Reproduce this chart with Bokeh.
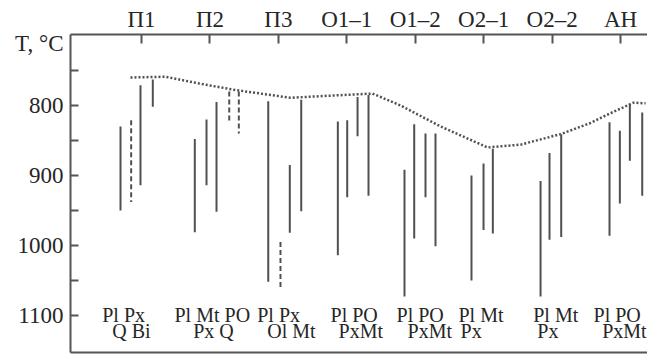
from bokeh.plotting import figure
from bokeh.models import Range1d, LinearAxis, FixedTicker
from bokeh.core.properties import value
from bokeh.embed import file_html
from bokeh.resources import INLINE

# ---- data ----
groups = ["П1", "П2", "П3", "О1–1", "О1–2", "О2–1", "О2–2", "АН"]
group_pos = [1, 2, 3, 4, 5, 6, 7, 8]

# solid temperature intervals (x position, top T, bottom T)
solid_x = [0.693, 0.985, 1.165,
           1.779, 1.950, 2.096,
           2.852, 3.167, 3.334,
           3.869, 4.006, 4.157, 4.317,
           4.843, 4.985, 5.150, 5.296,
           5.822, 5.998, 6.134,
           6.831, 6.962, 7.133,
           7.839, 7.990, 8.136, 8.317]
solid_top = [830, 771, 763,
             848, 820, 795,
             794, 885, 792,
             823, 821, 788, 785,
             892, 827, 840, 840,
             900, 883, 862,
             908, 868, 841,
             824, 836, 798, 810]
solid_bottom = [950, 914, 802,
                981, 914, 952,
                1052, 982, 951,
                1014, 931, 844, 929,
                1073, 990, 931, 1001,
                1050, 978, 983,
                1073, 992, 988,
                986, 940, 879, 929]

# dashed intervals
dash_x = [0.849, 2.282, 2.422, 3.031]
dash_top = [821, 780, 780, 995]
dash_bottom = [938, 823, 840, 1060]

# dotted upper envelope
curve_x = [0.839, 1.351, 1.862, 2.374, 2.812, 3.177, 3.762, 4.376, 4.785,
           5.370, 6.057, 6.539, 7.124, 7.562, 7.854, 8.190, 8.366]
curve_t = [760, 759, 769, 778, 784, 789, 786, 783, 800,
           830, 860, 856, 841, 825, 811, 796, 797]

# mineral labels (two rows)
row1_text = ["Pl Px", "Pl Mt PO", "Pl Px", "Pl PO", "Pl PO", "Pl Mt", "Pl Mt", "Pl PO"]
row1_x = [0.426, 1.482, 2.691, 3.762, 4.727, 5.632, 6.724, 7.605]
row2_text = ["Q Bi", "Px Q", "Ol Mt", "PxMt", "PxMt", "Px", "Px", "PxMt"]
row2_x = [0.572, 1.756, 2.837, 3.879, 4.887, 5.662, 6.783, 7.732]
row1_t = 1099.5
row2_t = 1122.0

y_ticks = [800, 900, 1000, 1100]
y_minor = [750, 850, 950, 1050]
y_title = "T, °C"
y_title_pos = 711.4

# ---- figure ----
FONT = "Liberation Serif"
LINE = "#505050"
TEXT = "#262626"
AXIS = "#555555"

p = figure(width=647, height=354, output_backend="svg", toolbar_location=None,
           x_range=Range1d(-0.0376, 8.394), y_range=Range1d(1153, 698.6),
           x_axis_location=None, y_axis_location=None,
           min_border_left=70, min_border_right=0, min_border_top=34,
           min_border_bottom=2)
p.grid.visible = False
p.outline_line_color = None
p.background_fill_color = "white"
p.border_fill_color = "white"

# left axis (tick marks drawn as minor ticks; the title sits at the top as a label)
ya = LinearAxis(ticker=FixedTicker(ticks=[y_title_pos] + y_ticks,
                                   minor_ticks=y_ticks + y_minor))
ya.major_label_overrides = {y_title_pos: y_title}
ya.axis_line_color = AXIS
ya.axis_line_width = 2
ya.major_tick_line_color = None
ya.major_tick_in = 0
ya.major_tick_out = 0
ya.minor_tick_line_color = AXIS
ya.minor_tick_line_width = 2
ya.minor_tick_in = 8
ya.minor_tick_out = 0
ya.major_label_text_font = FONT
ya.major_label_text_font_size = "23px"
ya.major_label_text_color = TEXT
ya.major_label_standoff = 7
p.add_layout(ya, "left")

# top axis
xa = LinearAxis(ticker=FixedTicker(ticks=group_pos, minor_ticks=[]))
xa.major_label_overrides = {pos: g for pos, g in zip(group_pos, groups)}
xa.axis_line_color = AXIS
xa.axis_line_width = 2
xa.major_tick_line_color = AXIS
xa.major_tick_line_width = 2
xa.major_tick_in = 9
xa.major_tick_out = 0
xa.minor_tick_line_color = None
xa.major_label_text_font = FONT
xa.major_label_text_font_size = "23px"
xa.major_label_text_color = TEXT
xa.major_label_standoff = 3
p.add_layout(xa, "above")

# bottom line
ba = LinearAxis(ticker=FixedTicker(ticks=[]))
ba.axis_line_color = AXIS
ba.axis_line_width = 2
ba.major_tick_line_color = None
ba.minor_tick_line_color = None
ba.major_label_text_font_size = "0px"
ba.major_label_standoff = 0
p.add_layout(ba, "below")

# vertical intervals
p.segment(x0=solid_x, y0=solid_top, x1=solid_x, y1=solid_bottom,
          line_color=LINE, line_width=2)
p.segment(x0=dash_x, y0=dash_top, x1=dash_x, y1=dash_bottom,
          line_color=LINE, line_width=2, line_dash="5 3")

# dotted envelope
p.line(curve_x, curve_t, line_color=LINE, line_width=2.5, line_dash="2 2")

# mineral labels
p.text(x=row1_x, y=[row1_t] * len(row1_x), text=row1_text,
       text_font=value(FONT), text_font_size="20px", text_color=TEXT,
       text_baseline="alphabetic", text_align="left")
p.text(x=row2_x, y=[row2_t] * len(row2_x), text=row2_text,
       text_font=value(FONT), text_font_size="20px", text_color=TEXT,
       text_baseline="alphabetic", text_align="left")

open("out.html", "w").write(file_html(p, INLINE))
